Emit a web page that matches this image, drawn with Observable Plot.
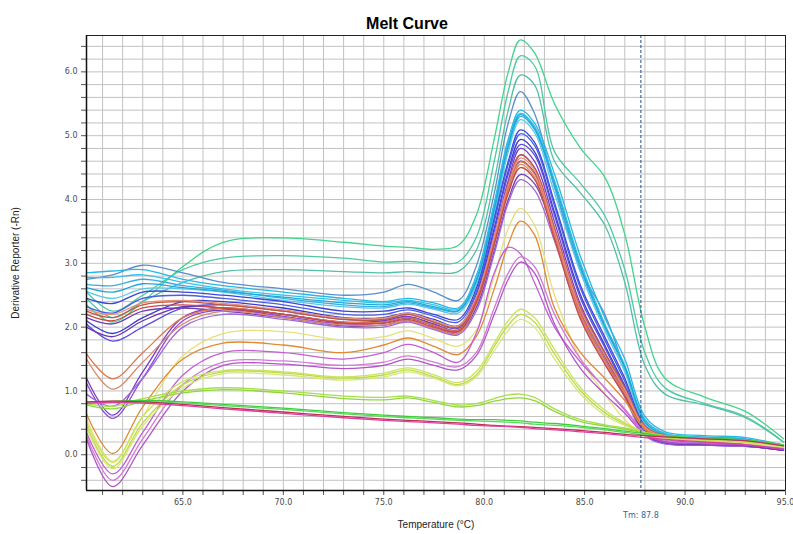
<!DOCTYPE html>
<html>
<head>
<meta charset="utf-8">
<script src="https://cdn.jsdelivr.net/npm/d3@7"></script>
<script src="https://cdn.jsdelivr.net/npm/@observablehq/plot@0.6"></script>
<style>
  body { margin: 0; background: #fff; }
</style>
</head>
<body>
<div id="chart"></div>
<script>
// Temperatures (°C) at which each well's derivative reporter was sampled
const temps = [60.2, 61.5, 63, 65, 67, 70, 73, 75, 76.2, 77.5, 78.7, 79.6, 80.5, 81.2, 81.8, 82.5, 83.5, 84.8, 86, 87, 88, 89, 91, 93, 94.9];

// -Rn' per well, one value per temperature above
const wellA1 = [2.35, 2.08, 2.4, 2.95, 3.33, 3.4, 3.33, 3.27, 3.25, 3.22, 3.28, 3.75, 4.95, 6.0, 6.5, 6.3, 5.5, 4.8, 4.35, 3.45, 2.0, 1.2, 0.9, 0.68, 0.25];
const wellA2 = [2.55, 2.25, 2.5, 2.9, 3.08, 3.12, 3.08, 3.02, 3.03, 3.0, 3.02, 3.4, 4.6, 5.7, 6.25, 6.1, 4.75, 4.25, 3.75, 2.9, 1.6, 1.05, 0.8, 0.6, 0.2];
const wellA3 = [2.45, 2.15, 2.4, 2.7, 2.87, 2.9, 2.87, 2.85, 2.87, 2.85, 2.87, 3.2, 4.3, 5.4, 5.95, 5.8, 4.6, 4.1, 3.6, 2.7, 1.4, 0.95, 0.78, 0.58, 0.2];
const wellS1 = [2.75, 2.82, 2.97, 2.85, 2.7, 2.6, 2.5, 2.55, 2.67, 2.55, 2.42, 2.95, 4.1, 5.2, 5.69, 5.35, 4.2, 2.9, 2.2, 1.35, 0.55, 0.33, 0.27, 0.23, 0.15];
const wellC1 = [2.85, 2.88, 2.9, 2.75, 2.65, 2.55, 2.45, 2.4, 2.45, 2.38, 2.3, 2.8, 3.95, 4.95, 5.4, 5.2, 4.4, 3.1, 2.15, 1.5, 0.6, 0.36, 0.3, 0.27, 0.15];
const wellC2 = [2.78, 2.78, 2.82, 2.7, 2.6, 2.5, 2.42, 2.38, 2.42, 2.35, 2.28, 2.75, 3.9, 4.9, 5.35, 5.15, 4.3, 3.0, 2.05, 1.4, 0.55, 0.33, 0.28, 0.25, 0.13];
const wellC3 = [2.67, 2.65, 2.75, 2.65, 2.58, 2.45, 2.35, 2.32, 2.38, 2.3, 2.25, 2.7, 3.8, 4.8, 5.3, 5.1, 4.2, 2.9, 2.0, 1.35, 0.5, 0.3, 0.27, 0.24, 0.12];
const wellC4 = [2.56, 2.45, 2.6, 2.6, 2.55, 2.42, 2.32, 2.3, 2.36, 2.28, 2.22, 2.65, 3.75, 4.75, 5.25, 5.05, 4.1, 2.85, 1.95, 1.3, 0.48, 0.3, 0.26, 0.24, 0.12];
const wellC5 = [2.62, 2.55, 2.68, 2.62, 2.56, 2.47, 2.38, 2.35, 2.4, 2.32, 2.26, 2.72, 3.85, 4.85, 5.33, 5.12, 4.25, 2.95, 2.02, 1.38, 0.52, 0.31, 0.27, 0.24, 0.12];
const wellB1 = [2.45, 2.37, 2.55, 2.55, 2.5, 2.4, 2.25, 2.25, 2.3, 2.2, 2.12, 2.6, 3.7, 4.6, 5.09, 4.9, 3.95, 2.65, 1.85, 1.2, 0.45, 0.27, 0.22, 0.2, 0.1];
const wellB2 = [2.32, 2.22, 2.45, 2.5, 2.45, 2.35, 2.2, 2.2, 2.27, 2.17, 2.08, 2.55, 3.65, 4.55, 5.03, 4.85, 3.9, 2.6, 1.8, 1.15, 0.42, 0.25, 0.2, 0.18, 0.1];
const wellB3 = [2.1, 1.9, 2.15, 2.4, 2.4, 2.3, 2.15, 2.15, 2.22, 2.12, 2.02, 2.5, 3.55, 4.45, 4.94, 4.75, 3.8, 2.5, 1.72, 1.08, 0.4, 0.22, 0.18, 0.15, 0.08];
const wellB4 = [2.05, 1.78, 2.0, 2.3, 2.35, 2.25, 2.12, 2.12, 2.2, 2.08, 1.98, 2.45, 3.5, 4.4, 4.86, 4.7, 3.75, 2.45, 1.68, 1.05, 0.38, 0.2, 0.17, 0.15, 0.08];
const wellP1 = [1.2, 0.62, 1.3, 2.15, 2.3, 2.2, 2.08, 2.1, 2.17, 2.05, 1.95, 2.4, 3.4, 4.3, 4.8, 4.6, 3.65, 2.35, 1.6, 1.0, 0.35, 0.2, 0.16, 0.14, 0.07];
const wellP2 = [1.12, 0.57, 1.2, 2.1, 2.27, 2.17, 2.05, 2.07, 2.14, 2.02, 1.93, 2.35, 3.3, 4.2, 4.7, 4.5, 3.55, 2.25, 1.55, 0.95, 0.33, 0.18, 0.15, 0.13, 0.07];
const wellP3 = [2.15, 2.05, 2.25, 2.3, 2.25, 2.15, 2.02, 2.03, 2.1, 1.98, 1.9, 2.3, 3.2, 4.0, 4.39, 4.25, 3.45, 2.2, 1.5, 0.92, 0.32, 0.18, 0.15, 0.13, 0.07];
const wellP4 = [0.95, 0.76, 1.2, 2.0, 2.2, 2.12, 2.0, 2.0, 2.08, 1.96, 1.88, 2.25, 3.15, 3.95, 4.31, 4.15, 3.35, 2.15, 1.45, 0.9, 0.3, 0.17, 0.15, 0.13, 0.07];
const wellP5 = [2.0, 1.85, 2.1, 2.32, 2.3, 2.2, 2.07, 2.08, 2.15, 2.04, 1.95, 2.38, 3.35, 4.2, 4.6, 4.42, 3.5, 2.25, 1.55, 0.96, 0.34, 0.19, 0.16, 0.14, 0.07];
const wellO1 = [2.25, 2.15, 2.35, 2.4, 2.35, 2.25, 2.12, 2.12, 2.2, 2.08, 2.0, 2.45, 3.4, 4.25, 4.7, 4.5, 3.55, 2.3, 1.6, 1.05, 0.45, 0.3, 0.25, 0.22, 0.15];
const wellO2 = [1.58, 1.19, 1.6, 2.15, 2.3, 2.2, 2.08, 2.08, 2.15, 2.03, 1.95, 2.4, 3.35, 4.15, 4.59, 4.4, 3.45, 2.2, 1.5, 0.98, 0.42, 0.3, 0.25, 0.22, 0.15];
const wellO3 = [1.5, 1.03, 1.45, 2.05, 2.25, 2.15, 2.03, 2.03, 2.1, 1.98, 1.9, 2.35, 3.3, 4.1, 4.55, 4.35, 3.4, 2.15, 1.45, 0.95, 0.4, 0.28, 0.24, 0.21, 0.14];
const wellO4 = [2.2, 2.1, 2.3, 2.35, 2.3, 2.2, 2.06, 2.06, 2.12, 2.0, 1.93, 2.38, 3.3, 4.1, 4.5, 4.32, 3.38, 2.12, 1.42, 0.92, 0.4, 0.28, 0.24, 0.21, 0.14];
const wellO5 = [2.28, 2.2, 2.38, 2.42, 2.37, 2.27, 2.14, 2.14, 2.22, 2.1, 2.02, 2.47, 3.42, 4.22, 4.65, 4.46, 3.5, 2.26, 1.56, 1.02, 0.43, 0.29, 0.25, 0.22, 0.15];
const wellY1 = [0.56, -0.1, 0.6, 1.55, 1.9, 1.93, 1.8, 1.85, 1.94, 1.82, 1.7, 1.95, 2.8, 3.55, 3.86, 3.6, 2.5, 1.5, 0.95, 0.55, 0.3, 0.25, 0.22, 0.2, 0.13];
const wellY2 = [0.64, 0.02, 0.75, 1.5, 1.75, 1.72, 1.6, 1.72, 1.83, 1.7, 1.57, 1.85, 2.6, 3.3, 3.66, 3.45, 2.3, 1.6, 1.2, 0.85, 0.4, 0.27, 0.25, 0.22, 0.15];
const wellM1 = [0.35, -0.3, 0.35, 1.25, 1.6, 1.6, 1.5, 1.6, 1.73, 1.6, 1.45, 1.9, 2.85, 3.25, 3.15, 2.7, 2.0, 1.45, 1.05, 0.7, 0.35, 0.25, 0.2, 0.18, 0.1];
const wellM2 = [0.3, -0.4, 0.25, 1.1, 1.45, 1.47, 1.4, 1.45, 1.55, 1.45, 1.38, 1.6, 2.3, 2.85, 3.1, 2.95, 2.2, 1.5, 1.05, 0.72, 0.35, 0.22, 0.18, 0.16, 0.1];
const wellM3 = [0.25, -0.5, 0.15, 1.0, 1.4, 1.42, 1.35, 1.4, 1.5, 1.4, 1.33, 1.55, 2.2, 2.75, 3.02, 2.85, 2.05, 1.35, 0.95, 0.65, 0.32, 0.2, 0.17, 0.15, 0.09];
const wellG1 = [0.5, -0.12, 0.6, 1.15, 1.32, 1.3, 1.22, 1.28, 1.36, 1.25, 1.13, 1.3, 1.75, 2.1, 2.28, 2.15, 1.65, 1.05, 0.7, 0.5, 0.35, 0.27, 0.23, 0.2, 0.13];
const wellG2 = [0.45, -0.18, 0.5, 1.1, 1.3, 1.28, 1.2, 1.25, 1.33, 1.22, 1.1, 1.25, 1.7, 2.03, 2.2, 2.08, 1.58, 1.0, 0.66, 0.48, 0.34, 0.26, 0.22, 0.19, 0.12];
const wellG3 = [0.42, -0.22, 0.45, 1.05, 1.27, 1.25, 1.17, 1.22, 1.3, 1.2, 1.08, 1.22, 1.63, 1.95, 2.12, 2.0, 1.5, 0.95, 0.62, 0.46, 0.33, 0.25, 0.21, 0.18, 0.12];
const wellH1 = [0.8, 0.76, 0.88, 1.0, 1.05, 1.0, 0.92, 0.9, 0.92, 0.85, 0.78, 0.8, 0.88, 0.94, 0.95, 0.9, 0.72, 0.55, 0.47, 0.42, 0.35, 0.3, 0.26, 0.23, 0.15];
const wellH2 = [0.78, 0.72, 0.84, 0.97, 1.02, 0.97, 0.88, 0.86, 0.89, 0.82, 0.75, 0.77, 0.84, 0.88, 0.89, 0.85, 0.68, 0.52, 0.45, 0.4, 0.34, 0.29, 0.25, 0.22, 0.14];
const wellL1 = [0.82, 0.84, 0.85, 0.83, 0.79, 0.73, 0.66, 0.62, 0.6, 0.58, 0.56, 0.55, 0.55, 0.54, 0.53, 0.51, 0.49, 0.45, 0.41, 0.37, 0.33, 0.29, 0.26, 0.23, 0.16];
const wellL2 = [0.8, 0.82, 0.83, 0.81, 0.77, 0.71, 0.64, 0.6, 0.58, 0.56, 0.54, 0.53, 0.52, 0.51, 0.5, 0.48, 0.46, 0.43, 0.39, 0.35, 0.31, 0.28, 0.25, 0.22, 0.15];
const wellR1 = [0.83, 0.84, 0.83, 0.79, 0.74, 0.67, 0.6, 0.56, 0.54, 0.52, 0.5, 0.48, 0.46, 0.45, 0.44, 0.43, 0.41, 0.38, 0.35, 0.32, 0.3, 0.28, 0.25, 0.22, 0.14];
const wellR2 = [0.81, 0.82, 0.81, 0.77, 0.72, 0.65, 0.58, 0.54, 0.52, 0.5, 0.48, 0.46, 0.45, 0.44, 0.43, 0.41, 0.39, 0.36, 0.33, 0.3, 0.27, 0.24, 0.2, 0.16, 0.08];

// Drawing order and well colours
const wells = [wellA1, wellA2, wellA3, wellS1, wellC1, wellC2, wellC3, wellC4, wellC5,
  wellB1, wellB2, wellB3, wellB4, wellP1, wellP2, wellP3, wellP4, wellP5,
  wellO1, wellO2, wellO3, wellO4, wellO5, wellY1, wellY2, wellM1, wellM2, wellM3,
  wellG1, wellG2, wellG3, wellH1, wellH2, wellL1, wellL2, wellR1, wellR2];
const wellColors = ["#3fd58a", "#4ccaa0", "#52bfa6", "#5a8fcc", "#27b7e4", "#33c0ea", "#3aaee0", "#55c8e8", "#1fa9d6",
  "#3a46d8", "#4a5ee6", "#3a3acb", "#5a4ee0", "#7a3cc8", "#8f4ad6", "#7040b8", "#a066d8", "#6a34b0",
  "#c0583e", "#e0784a", "#d88a6a", "#c84848", "#e8907a", "#e6e07a", "#e08a34", "#c45ed6", "#d27ad8", "#b254c8",
  "#cbe45a", "#badc48", "#d6e67a", "#a6de48", "#8fd63c", "#3ccf3c", "#5ad85a", "#c02f5a", "#dc3fa0"];

const xTickLabels = [65, 70, 75, 80, 85, 90, 95];
const yTickLabels = [0, 1, 2, 3, 4, 5, 6];
const tm = 87.8;

const xGrid = d3.range(61, 95, 1);
const yGrid = d3.range(-2, 33).map(i => +(i * 0.2).toFixed(1));

const curves = wells.map((vals, i) => Plot.line(
  vals.map((v, j) => ({t: temps[j], v})),
  {x: "t", y: "v", stroke: wellColors[i], strokeWidth: 1.3, curve: "catmull-rom"}
));

const chart = Plot.plot({
  width: 793,
  height: 534,
  marginLeft: 86,
  marginRight: 8,
  marginTop: 35,
  marginBottom: 44,
  style: {fontFamily: "'DejaVu Sans', sans-serif", fontSize: "8px", color: "#4a4a4a", background: "#fff"},
  x: {domain: [60.2, 95]},
  y: {domain: [-0.56, 6.57]},
  marks: [
    Plot.gridX(xGrid, {stroke: "#c2c2c2", strokeOpacity: 1}),
    Plot.gridY(yGrid, {stroke: "#c2c2c2", strokeOpacity: 1}),
    ...curves,
    Plot.ruleX([tm], {stroke: "#1d4c8c", strokeDasharray: "3,2", strokeWidth: 1}),
    Plot.frame({stroke: "#222", strokeWidth: 1}),
    Plot.axisX(d3.range(61, 96, 1), {tickSize: 5, tickPadding: 4, tickFormat: d => xTickLabels.includes(d) ? d.toFixed(1) : "", label: null, stroke: "#555"}),
    Plot.axisY(yGrid, {tickSize: 5, tickPadding: 4, tickFormat: d => yTickLabels.includes(d) ? d.toFixed(1) : "", label: null, stroke: "#555"}),
    Plot.ruleY([-0.56], {stroke: "#111", strokeWidth: 1.5}),
    Plot.ruleX([60.2], {stroke: "#111", strokeWidth: 1.5}),
    Plot.text([tm], {x: d => d, frameAnchor: "bottom", dy: 27, text: d => "Tm: " + d.toFixed(1), fill: "#2a6aa8", fontSize: 8}),
    Plot.text(["Melt Curve"], {frameAnchor: "top", dx: -29, dy: -18, fontSize: 16, fontWeight: "bold", fontFamily: "'Liberation Sans', Arial, sans-serif", fill: "#000"}),
    Plot.text(["Temperature (°C)"], {frameAnchor: "bottom", dy: 37, fontSize: 10, fontFamily: "'Liberation Sans', Arial, sans-serif", fill: "#222"}),
    Plot.text(["Derivative Reporter (-Rn)"], {frameAnchor: "left", dx: -71, rotate: -90, textAnchor: "middle", fontSize: 10, fontFamily: "'Liberation Sans', Arial, sans-serif", fill: "#222"})
  ]
});

document.getElementById("chart").append(chart);
</script>
</body>
</html>
